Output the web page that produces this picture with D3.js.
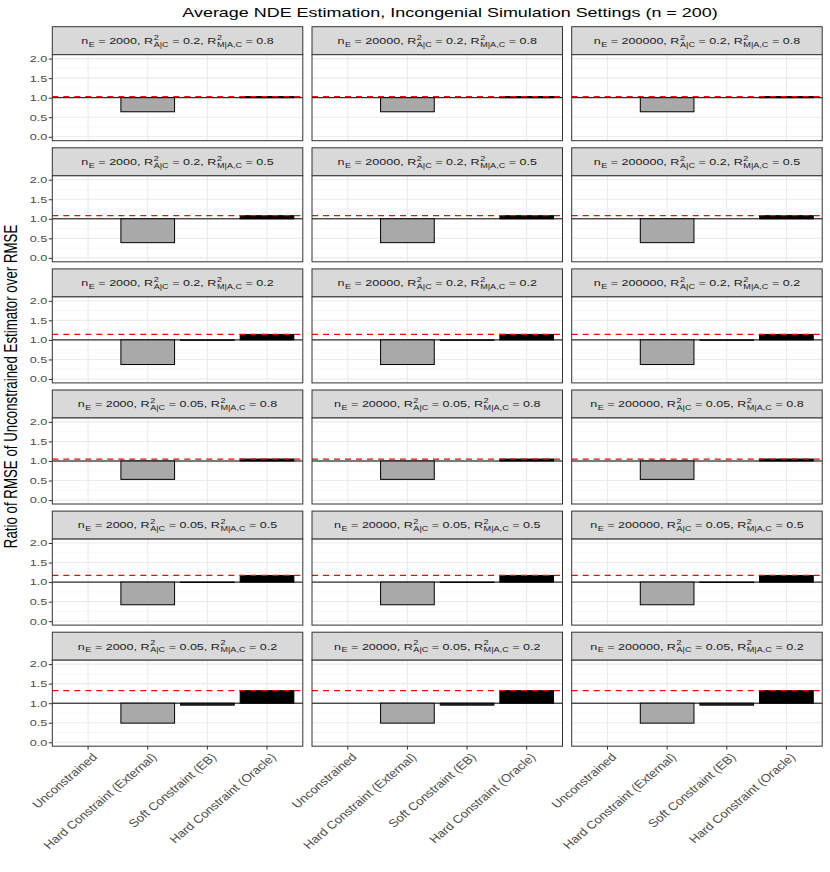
<!DOCTYPE html>
<html>
<head>
<meta charset="utf-8">
<script src="https://cdn.jsdelivr.net/npm/d3@7"></script>
<style>
  body { margin: 0; background: #fff; }
  text { font-family: "Liberation Sans", Arial, sans-serif; white-space: pre; }
</style>
</head>
<body>
<svg id="chart" width="830" height="872"></svg>
<script>
// categories on the x axis
const categories = ["Unconstrained", "Hard Constraint (External)", "Soft Constraint (EB)", "Hard Constraint (Oracle)"];
// facet settings
const nE = [2000, 20000, 200000];
const r2AC = ["0.2", "0.2", "0.2", "0.05", "0.05", "0.05"];
const r2MAC = ["0.8", "0.5", "0.2", "0.8", "0.5", "0.2"];
// ratio values per facet row (same for each n_E column)
const unconstrained = [1.00, 1.00, 1.00, 1.00, 1.00, 1.00];
const external = [0.64, 0.39, 0.37, 0.53, 0.42, 0.49];
const eb = [1.00, 1.00, 0.99, 1.00, 0.99, 0.95];
const oracle = [1.03, 1.08, 1.14, 1.05, 1.17, 1.32];
const yTicks = [0, 0.5, 1, 1.5, 2];
const yMinor = [0.25, 0.75, 1.25, 1.75];

const fills = ["#FFFFFF", "#A9A9A9", "#333333", "#000000"];

const svg = d3.select("#chart");

// the reference text is drawn a bit wide, so stretch glyphs horizontally
const SX = 1.32;

// layout
const left = 52.3, colW = 250.5, colGap = 9.2;
const top0 = 26.7, rowStep = 121.1, stripH = 28, plotH = 86;

const x = d3.scaleBand().domain(categories).range([0, colW]).paddingInner(0.1).paddingOuter(0.15);
const y = d3.scaleLinear().domain([-0.1, 2.1]).range([stripH + plotH, stripH]);

// title
svg.append("text")
  .attr("transform", `translate(450,17) scale(${SX},1)`)
  .attr("text-anchor", "middle")
  .attr("font-size", 13.6)
  .attr("fill", "#000")
  .text("Average NDE Estimation, Incongenial Simulation Settings (n = 200)");

// y axis title
svg.append("text")
  .attr("transform", `translate(17,${top0 + (5 * rowStep + stripH + plotH) / 2}) scale(${SX},1) rotate(-90)`)
  .attr("text-anchor", "middle")
  .attr("font-size", 13.3)
  .attr("fill", "#000")
  .text("Ratio of RMSE of Unconstrained Estimator over RMSE");

// strip label with stacked super/subscripts
function stripLabel(g, pieces, cx, cy) {
  const lab = g.append("g");
  let pos = 0;
  const fs = 9.5, small = 6.9;
  pieces.forEach(p => {
    if (p.t !== undefined) {
      const t = lab.append("text").attr("x", pos).attr("y", 0)
        .attr("font-size", fs).attr("fill", "#1A1A1A").text(p.t);
      pos += t.node().getComputedTextLength();
    } else {
      let w = 0;
      if (p.sup) {
        const s = lab.append("text").attr("x", pos + 0.4).attr("y", -4.5)
          .attr("font-size", small).attr("fill", "#1A1A1A").text(p.sup);
        w = Math.max(w, s.node().getComputedTextLength() + 0.4);
      }
      if (p.sub) {
        const s = lab.append("text").attr("x", pos + 0.4).attr("y", 2.6)
          .attr("font-size", small).attr("fill", "#1A1A1A").text(p.sub);
        w = Math.max(w, s.node().getComputedTextLength() + 0.4);
      }
      pos += w;
    }
  });
  lab.attr("transform", `translate(${cx - pos * SX / 2},${cy}) scale(${SX},1)`);
}

for (let r = 0; r < 6; r++) {
  const vals = [unconstrained[r], external[r], eb[r], oracle[r]];
  for (let c = 0; c < 3; c++) {
    const g = svg.append("g")
      .attr("transform", `translate(${left + c * (colW + colGap)},${top0 + r * rowStep})`);

    // strip
    g.append("rect").attr("x", 0).attr("y", 0).attr("width", colW).attr("height", stripH)
      .attr("fill", "#D9D9D9").attr("stroke", "#333333").attr("stroke-width", 1);
    stripLabel(g, [
      { t: "n" }, { sub: "E" },
      { t: " = " + nE[c] + ", R" }, { sup: "2", sub: "A|C" },
      { t: " = " + r2AC[r] + ", R" }, { sup: "2", sub: "M|A,C" },
      { t: " = " + r2MAC[r] }
    ], colW / 2, 17.3);

    // panel background and grid
    g.append("rect").attr("x", 0).attr("y", stripH).attr("width", colW).attr("height", plotH)
      .attr("fill", "#fff");
    g.selectAll(".minor").data(yMinor).join("line")
      .attr("x1", 0).attr("x2", colW).attr("y1", d => y(d)).attr("y2", d => y(d))
      .attr("stroke", "#F2F2F2").attr("stroke-width", 0.6);
    g.selectAll(".majY").data(yTicks).join("line")
      .attr("x1", 0).attr("x2", colW).attr("y1", d => y(d)).attr("y2", d => y(d))
      .attr("stroke", "#EBEBEB").attr("stroke-width", 1.1);
    g.selectAll(".majX").data(categories).join("line")
      .attr("x1", d => x(d) + x.bandwidth() / 2).attr("x2", d => x(d) + x.bandwidth() / 2)
      .attr("y1", stripH).attr("y2", stripH + plotH)
      .attr("stroke", "#EBEBEB").attr("stroke-width", 1.1);

    // reference line at 1
    g.append("line").attr("x1", 0).attr("x2", colW).attr("y1", y(1)).attr("y2", y(1))
      .attr("stroke", "#000").attr("stroke-width", 1);

    // bars from 1 to value
    g.selectAll(".bar").data(categories).join("rect")
      .attr("x", d => x(d))
      .attr("width", x.bandwidth())
      .attr("y", (d, i) => y(Math.max(1, vals[i])))
      .attr("height", (d, i) => Math.abs(y(vals[i]) - y(1)))
      .attr("fill", (d, i) => fills[i])
      .attr("stroke", "#000").attr("stroke-width", 1);

    // oracle dashed line
    g.append("line").attr("x1", 0).attr("x2", colW).attr("y1", y(oracle[r])).attr("y2", y(oracle[r]))
      .attr("stroke", "#FF0000").attr("stroke-width", 1.3).attr("stroke-dasharray", "6,5");

    // panel border
    g.append("rect").attr("x", 0).attr("y", stripH).attr("width", colW).attr("height", plotH)
      .attr("fill", "none").attr("stroke", "#333333").attr("stroke-width", 1);

    if (c === 0) {
      const ax = g.append("g")
        .call(d3.axisLeft(y).tickValues(yTicks).tickFormat("").tickSize(3.5));
      ax.select(".domain").remove();
      ax.selectAll(".tick line").attr("stroke", "#333333");
      g.selectAll(".ylab").data(yTicks).join("text")
        .attr("transform", d => `translate(-5,${y(d)}) scale(${SX},1)`)
        .attr("text-anchor", "end")
        .attr("dy", "0.35em")
        .attr("font-size", 9.6)
        .attr("fill", "#4D4D4D")
        .text(d3.format(".1f"));
    }
    if (r === 5) {
      const ax = g.append("g").attr("transform", `translate(0,${stripH + plotH})`)
        .call(d3.axisBottom(x).tickSize(3.5).tickFormat(""));
      ax.select(".domain").remove();
      ax.selectAll(".tick line").attr("stroke", "#333333");
      g.selectAll(".xlab").data(categories).join("text")
        .attr("transform", d => `translate(${x(d) + x.bandwidth() / 2 + 3},${stripH + plotH + 6}) scale(1.18,1) rotate(-45)`)
        .attr("text-anchor", "end")
        .attr("dy", "0.72em")
        .attr("font-size", 11.2)
        .attr("fill", "#4D4D4D")
        .text(d => d);
    }
  }
}
</script>
</body>
</html>
